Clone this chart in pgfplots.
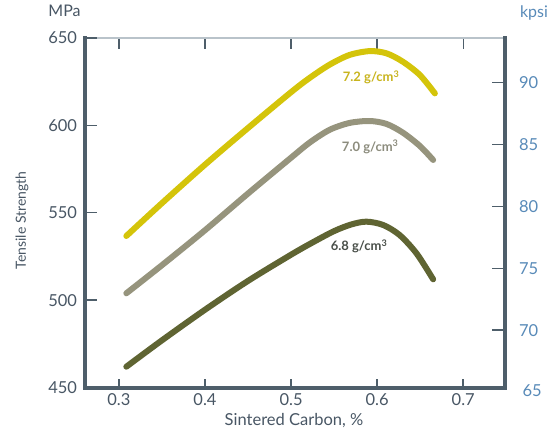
\documentclass[border=0pt]{standalone}
\usepackage{pgfplots}
\pgfplotsset{compat=1.18}
\usepackage{fontspec}
\setmainfont{Lato}
\definecolor{spine}{RGB}{78,94,106}
\definecolor{topline}{RGB}{185,195,202}
\definecolor{lefttxt}{RGB}{72,86,100}
\definecolor{righttxt}{RGB}{88,138,184}
\definecolor{cyellow}{RGB}{212,196,10}
\definecolor{cgray}{RGB}{150,148,125}
\definecolor{cdark}{RGB}{95,100,50}
\definecolor{lyellow}{RGB}{200,180,30}
\definecolor{lgray}{RGB}{140,140,125}
\definecolor{ldark}{RGB}{72,78,72}
\pgfplotsset{
  common/.style={
    at={(84.5pt,46.5pt)}, anchor=south west,
    scale only axis, width=420pt, height=349.5pt,
    xmin=0.26, xmax=0.748,
    xtick={0.3,0.4,0.5,0.6,0.7},
    tick align=inside,
    ticklabel style={font=\fontsize{16.5}{19}\selectfont, /pgf/number format/assume math mode=true},
  }
}
\begin{document}
\begin{tikzpicture}[x=1pt,y=1pt]
\path[use as bounding box] (0,0) rectangle (553,434);
% right / top axis (kpsi)
\begin{axis}[common,
  ymin=65.36, ymax=93.62,
  axis x line*=top, axis y line*=right,
  x axis line style={line width=1.3pt, color=topline},
  y axis line style={line width=4pt, color=spine, line cap=rect},
  xticklabels={},
  ytick={70,75,80,85,90},
  xtick style={line width=1.3pt, color=spine, /pgfplots/major tick length=11pt},
  ytick style={line width=1.4pt, color=spine, /pgfplots/major tick length=12.5pt},
  yticklabel style={color=righttxt, anchor=west, xshift=11pt},
]
\end{axis}
% left / bottom axis (MPa)
\begin{axis}[common,
  ymin=450, ymax=650,
  axis x line*=bottom, axis y line*=left,
  axis line style={line width=4pt, color=spine, line cap=rect},
  ytick={450,500,550,600,650},
  xtick style={line width=1.4pt, color=spine, /pgfplots/major tick length=8.5pt},
  ytick style={line width=1.4pt, color=spine, /pgfplots/major tick length=12.5pt},
  yticklabel style={color=lefttxt, anchor=east, xshift=-4pt},
  xticklabel style={color=lefttxt, anchor=north, yshift=-3pt},
  clip=false,
]
\addplot[cyellow, line width=6pt, line cap=round, smooth] coordinates {
  (0.3086,536.7) (0.35,555.5) (0.40,577.5) (0.45,598.5) (0.50,619.0) (0.522,627.3)
  (0.545,634.8) (0.568,640.3) (0.5915,642.5) (0.611,641.2) (0.630,636.4) (0.6497,628.8) (0.6671,618.3)};
\addplot[cgray, line width=6pt, line cap=round, smooth] coordinates {
  (0.3086,503.9) (0.35,520.0) (0.40,540.0) (0.45,561.0) (0.50,581.5) (0.522,590.3)
  (0.545,597.5) (0.568,601.4) (0.5915,602.5) (0.611,600.8) (0.630,595.8) (0.6497,588.2) (0.6651,580.2)};
\addplot[cdark, line width=6pt, line cap=round, smooth] coordinates {
  (0.3086,461.9) (0.35,477.0) (0.40,494.5) (0.45,511.0) (0.50,526.0) (0.525,533.0)
  (0.55,539.5) (0.57,543.3) (0.5876,544.9) (0.607,543.0) (0.626,537.3) (0.6457,526.8) (0.6651,511.9)};
\node[lyellow, font=\fontsize{13}{15}\selectfont\bfseries] at (axis cs:0.593,627.5) {7.2 g/cm\textsuperscript{3}};
\node[lgray, font=\fontsize{13}{15}\selectfont\bfseries] at (axis cs:0.592,587.8) {7.0 g/cm\textsuperscript{3}};
\node[ldark, font=\fontsize{13}{15}\selectfont\bfseries] at (axis cs:0.579,530.6) {6.8 g/cm\textsuperscript{3}};
\end{axis}
\node[righttxt, anchor=west, font=\fontsize{16.5}{19}\selectfont] at (519,43.3) {65};
\node[lefttxt, font=\fontsize{16}{18}\selectfont] at (64.5,423) {MPa};
\node[righttxt, font=\fontsize{16}{18}\selectfont] at (534,421.5) {kpsi};
\node[lefttxt, rotate=90, font=\fontsize{14}{16}\selectfont] at (22,213.5) {Tensile Strength};
\node[lefttxt, font=\fontsize{16.5}{19}\selectfont] at (294,13) {Sintered Carbon, \%};
\end{tikzpicture}
\end{document}
